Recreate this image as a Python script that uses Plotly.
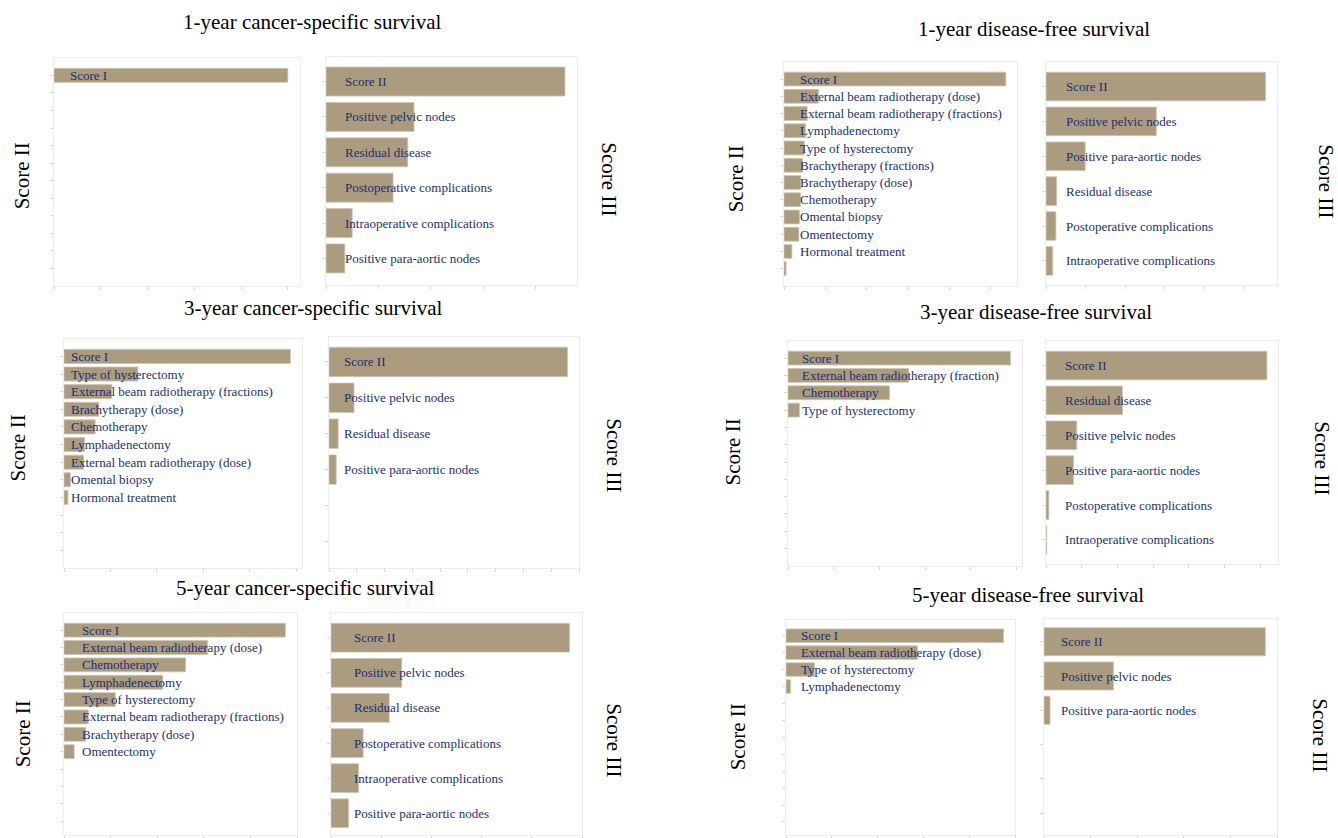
import plotly.graph_objects as go

W, H = 1338, 838
FONT = "Liberation Serif"
BAR = "#ab9c80"
TXT = "#1c2f6e"

# ---------------- data ----------------
titles = ["1-year cancer-specific survival", "1-year disease-free survival",
          "3-year cancer-specific survival", "3-year disease-free survival",
          "5-year cancer-specific survival", "5-year disease-free survival"]

css1_s2_labels = ["Score I"]
css1_s2_values = [5.0]
css1_s3_labels = ["Score II", "Positive pelvic nodes", "Residual disease",
                  "Postoperative complications", "Intraoperative complications",
                  "Positive para-aortic nodes"]
css1_s3_values = [4.56, 1.68, 1.56, 1.28, 0.50, 0.36]

dfs1_s2_labels = ["Score I", "External beam radiotherapy (dose)",
                  "External beam radiotherapy (fractions)", "Lymphadenectomy",
                  "Type of hysterectomy", "Brachytherapy (fractions)",
                  "Brachytherapy (dose)", "Chemotherapy", "Omental biopsy",
                  "Omentectomy", "Hormonal treatment", ""]
dfs1_s2_values = [5.37, 0.84, 0.56, 0.52, 0.49, 0.45, 0.41, 0.40, 0.375, 0.36, 0.19, 0.05]
dfs1_s3_labels = ["Score II", "Positive pelvic nodes", "Positive para-aortic nodes",
                  "Residual disease", "Postoperative complications",
                  "Intraoperative complications"]
dfs1_s3_values = [5.55, 2.79, 0.99, 0.27, 0.25, 0.17]

css3_s2_labels = ["Score I", "Type of hysterectomy",
                  "External beam radiotherapy (fractions)", "Brachytherapy (dose)",
                  "Chemotherapy", "Lymphadenectomy",
                  "External beam radiotherapy (dose)", "Omental biopsy",
                  "Hormonal treatment"]
css3_s2_values = [4.87, 1.59, 1.03, 0.75, 0.67, 0.44, 0.42, 0.14, 0.085]
css3_s3_labels = ["Score II", "Positive pelvic nodes", "Residual disease",
                  "Positive para-aortic nodes"]
css3_s3_values = [8.59, 0.90, 0.33, 0.26]

dfs3_s2_labels = ["Score I", "External beam radiotherapy (fraction)", "Chemotherapy",
                  "Type of hysterectomy"]
dfs3_s2_values = [4.87, 2.64, 2.22, 0.25]
dfs3_s3_labels = ["Score II", "Residual disease", "Positive pelvic nodes",
                  "Positive para-aortic nodes", "Postoperative complications",
                  "Intraoperative complications"]
dfs3_s3_values = [6.18, 2.14, 0.86, 0.77, 0.08, 0.02]

css5_s2_labels = ["Score I", "External beam radiotherapy (dose)", "Chemotherapy",
                  "Lymphadenectomy", "Type of hysterectomy",
                  "External beam radiotherapy (fractions)", "Brachytherapy (dose)",
                  "Omentectomy"]
css5_s2_values = [4.75, 3.08, 2.61, 2.12, 1.10, 0.52, 0.47, 0.22]
css5_s3_labels = ["Score II", "Positive pelvic nodes", "Residual disease",
                  "Postoperative complications", "Intraoperative complications",
                  "Positive para-aortic nodes"]
css5_s3_values = [4.75, 1.41, 1.16, 0.64, 0.55, 0.35]

dfs5_s2_labels = ["Score I", "External beam radiotherapy (dose)",
                  "Type of hysterectomy", "Lymphadenectomy"]
dfs5_s2_values = [4.75, 2.87, 0.62, 0.10]
dfs5_s3_labels = ["Score II", "Positive pelvic nodes", "Positive para-aortic nodes"]
dfs5_s3_values = [4.75, 1.49, 0.13]

# ---------------- layout geometry (pixels) ----------------
# box: (left, right, top, bottom), x range max, y range (top, bottom), n slots, label offset
subplots = [
    (css1_s2_labels, css1_s2_values, (54, 300, 58, 287), 5.26, (-1.0, 12.0), 12, 14),
    (css1_s3_labels, css1_s3_values, (326, 577, 57, 286), 4.79, (-0.70, 5.75), 6, 17),
    (dfs1_s2_labels, dfs1_s2_values, (784, 1017, 62, 287), 5.64, (-1.0, 12.0), 12, 14),
    (dfs1_s3_labels, dfs1_s3_values, (1046, 1277, 62, 286), 5.84, (-0.71, 5.69), 6, 18),
    (css3_s2_labels, css3_s2_values, (64, 302, 340, 570), 5.12, (-1.0, 12.0), 12, 5),
    (css3_s3_labels, css3_s3_values, (329, 579, 338, 570), 9.0, (-0.70, 5.74), 6, 13),
    (dfs3_s2_labels, dfs3_s2_values, (788, 1022, 342, 568), 5.12, (-1.0, 12.0), 12, 12),
    (dfs3_s3_labels, dfs3_s3_values, (1046, 1278, 342, 566), 6.49, (-0.71, 5.69), 6, 17),
    (css5_s2_labels, css5_s2_values, (64, 297, 615, 838), 5.0, (-1.0, 11.8), 12, 16),
    (css5_s3_labels, css5_s3_values, (331, 582, 615, 838), 5.0, (-0.71, 5.62), 6, 21),
    (dfs5_s2_labels, dfs5_s2_values, (786, 1015, 622, 838), 5.0, (-0.94, 11.77), 12, 13),
    (dfs5_s3_labels, dfs5_s3_values, (1044, 1277, 621, 838), 5.0, (-0.67, 5.64), 6, 15),
]

title_pos = [(312, 22), (1034, 29), (313, 309), (1036, 313), (305, 590), (1028, 597)]
score2_pos = [(22, 177), (736, 180), (18, 450), (733, 453), (23, 737), (738, 740)]
score3_pos = [(609, 180), (1326, 182), (614, 457), (1322, 460), (614, 743), (1320, 738)]

fig = go.Figure()
annotations = []
layout_axes = {}

for i, (labels, values, box, xmax, yr, nslots, off) in enumerate(subplots, start=1):
    l, r, t, b = box
    xa = "x" if i == 1 else f"x{i}"
    ya = "y" if i == 1 else f"y{i}"
    idx = list(range(len(values)))
    fig.add_trace(go.Bar(
        x=values, y=idx, orientation="h", xaxis=xa, yaxis=ya,
        width=0.8 if nslots == 12 else 0.82,
        marker=dict(color=BAR, line=dict(color="#cfc5b2", width=0.8)),
        hoverinfo="x+text", hovertext=labels, showlegend=False,
    ))
    axis_common = dict(showgrid=False, zeroline=False, showline=True, mirror=True,
                       linecolor="#ececec", linewidth=1, ticks="outside", ticklen=3,
                       tickcolor="#d6d6d6", showticklabels=False)
    layout_axes["xaxis" if i == 1 else f"xaxis{i}"] = dict(
        domain=[l / W, r / W], range=[0, xmax], dtick=1 if xmax < 10 else 2,
        anchor=ya, **axis_common)
    layout_axes["yaxis" if i == 1 else f"yaxis{i}"] = dict(
        domain=[max(0, 1 - b / H), 1 - t / H], range=[yr[1], yr[0]],
        tickvals=list(range(nslots)), anchor=xa, **axis_common)
    for k, lab in enumerate(labels):
        if not lab:
            continue
        annotations.append(dict(
            text=lab, xref=f"{xa} domain", x=0, xshift=off, xanchor="left",
            yref=ya, y=k, yanchor="middle", showarrow=False,
            font=dict(family=FONT, size=13, color=TXT)))

for (tx, ty), tt in zip(title_pos, titles):
    annotations.append(dict(text=tt, xref="paper", yref="paper", x=tx / W, y=1 - ty / H,
                            xanchor="center", yanchor="middle", showarrow=False,
                            font=dict(family=FONT, size=21, color="black")))
for (sx, sy) in score2_pos:
    annotations.append(dict(text="Score II", xref="paper", yref="paper", x=sx / W,
                            y=1 - sy / H, xanchor="center", yanchor="middle",
                            textangle=-90, showarrow=False,
                            font=dict(family=FONT, size=21, color="black")))
for (sx, sy) in score3_pos:
    annotations.append(dict(text="Score III", xref="paper", yref="paper", x=sx / W,
                            y=1 - sy / H, xanchor="center", yanchor="middle",
                            textangle=90, showarrow=False,
                            font=dict(family=FONT, size=21, color="black")))

fig.update_layout(width=W, height=H, margin=dict(l=0, r=0, t=0, b=0),
                  paper_bgcolor="white", plot_bgcolor="white",
                  annotations=annotations, bargap=0.2, **layout_axes)

fig.write_html("out.html", include_plotlyjs=True, full_html=True,
               config={"displayModeBar": False})
